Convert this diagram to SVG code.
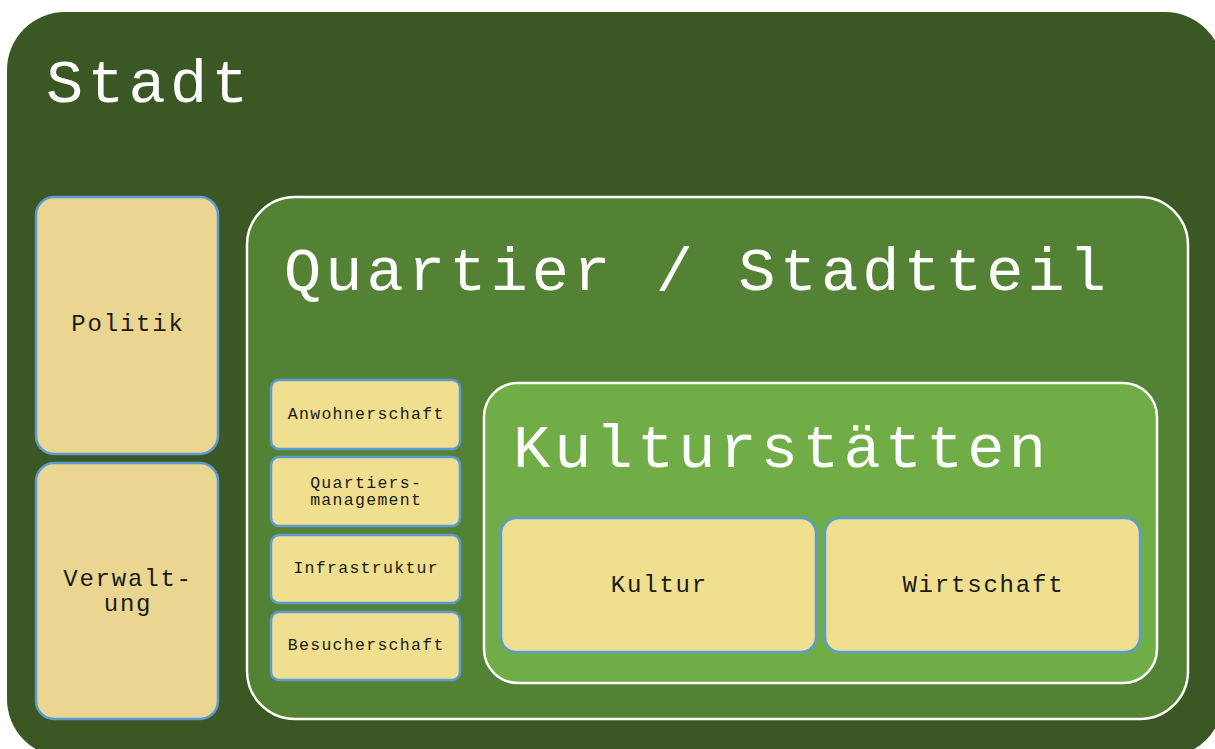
<svg xmlns="http://www.w3.org/2000/svg" width="1215" height="749" viewBox="0 0 1215 749">
<style>
.title{font-family:"Courier New","Liberation Mono",monospace;font-size:62px;letter-spacing:4.1px;fill:#ffffff}
.lbl{font-family:"Courier New","Liberation Mono",monospace;fill:#1a1a1a;text-anchor:middle}
.big{font-size:24px;letter-spacing:1.8px}
.sm{font-size:16.5px;letter-spacing:1.3px}
.box{stroke:#5B9BD5;stroke-width:2.5}
.side{fill:#EAD690}
.item{fill:#F0DF8F}
.frame{stroke:#ffffff;stroke-width:2.5}
</style>
<rect width="1215" height="749" fill="#ffffff"/>
<g id="stadt">
<rect x="7" y="12" width="1216" height="745" rx="58" fill="#3A5724"/>
<text class="title" x="46" y="102">Stadt</text>
</g>
<g id="politik">
<rect class="box side" x="36" y="197" width="182" height="257" rx="18"/>
<text class="lbl big" x="128" y="331">Politik</text>
</g>
<g id="verwaltung">
<rect class="box side" x="36" y="463" width="182" height="256" rx="18"/>
<text class="lbl big" x="128" y="586">Verwalt-</text>
<text class="lbl big" x="128" y="611">ung</text>
</g>
<g id="quartier">
<rect class="frame" x="247" y="197" width="941" height="522" rx="48" fill="#548235"/>
<text class="title" x="284" y="290">Quartier / Stadtteil</text>
</g>
<g id="anwohnerschaft">
<rect class="box item" x="271" y="380" width="189" height="69" rx="8"/>
<text class="lbl sm" x="366.2" y="419">Anwohnerschaft</text>
</g>
<g id="quartiersmanagement">
<rect class="box item" x="271" y="457" width="189" height="69" rx="8"/>
<text class="lbl sm" x="366.2" y="488">Quartiers-</text>
<text class="lbl sm" x="366.2" y="505">management</text>
</g>
<g id="infrastruktur">
<rect class="box item" x="271" y="535" width="189" height="68" rx="8"/>
<text class="lbl sm" x="366.2" y="573">Infrastruktur</text>
</g>
<g id="besucherschaft">
<rect class="box item" x="271" y="612" width="189" height="68" rx="8"/>
<text class="lbl sm" x="366.2" y="650">Besucherschaft</text>
</g>
<g id="kulturstaetten">
<rect class="frame" x="484" y="383" width="673" height="300" rx="34" fill="#70AD47"/>
<text class="title" x="513" y="467">Kulturstätten</text>
</g>
<g id="kultur">
<rect class="box item" x="501" y="518" width="315" height="134" rx="15"/>
<text class="lbl big" x="659.4" y="592">Kultur</text>
</g>
<g id="wirtschaft">
<rect class="box item" x="825" y="518" width="315" height="134" rx="15"/>
<text class="lbl big" x="983.4" y="592">Wirtschaft</text>
</g>
<g id="connectors"></g>
</svg>
